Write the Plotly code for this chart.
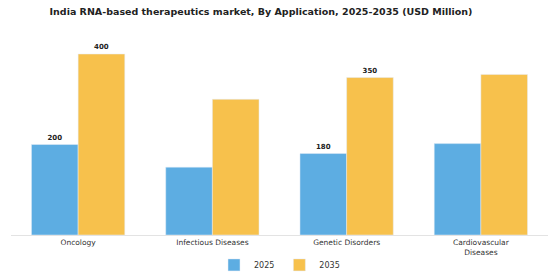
import plotly.graph_objects as go

categories = ["Oncology", "Infectious Diseases", "Genetic Disorders", "Cardiovascular<br>Diseases"]
values_2025 = [200, 150, 180, 202]
values_2035 = [400, 300, 348, 355]
labels_2025 = ["<b>200</b>", "", "<b>180</b>", ""]
labels_2035 = ["<b>400</b>", "", "<b>350</b>", ""]

blue = "#5DADE2"
yellow = "#F7C14C"

fig = go.Figure()
fig.add_trace(go.Bar(
    x=categories, y=values_2025, name="2025", marker_color=blue,
    text=labels_2025, textposition="outside", cliponaxis=False,
    textfont=dict(family="DejaVu Sans", size=7, color="#222"),
))
fig.add_trace(go.Bar(
    x=categories, y=values_2035, name="2035", marker_color=yellow,
    text=labels_2035, textposition="outside", cliponaxis=False,
    textfont=dict(family="DejaVu Sans", size=7, color="#222"),
))

fig.update_layout(
    width=560, height=280,
    margin=dict(l=11, r=12, t=40, b=45, autoexpand=False),
    paper_bgcolor="white", plot_bgcolor="white",
    barmode="group", bargap=0.305, bargroupgap=0,
    font=dict(family="DejaVu Sans", size=8, color="#333"),
    title=dict(
        text="<b>India RNA-based therapeutics market, By Application, 2025-2035 (USD Million)</b>",
        x=0.466, xanchor="center", y=0.96, yanchor="middle",
        font=dict(family="DejaVu Sans", size=9.5, color="#222"),
    ),
    showlegend=True,
    legend=dict(
        orientation="h", x=0.5, xanchor="center",
        yref="container", y=0.054, yanchor="middle",
        font=dict(family="DejaVu Sans", size=8, color="#333"),
        itemwidth=30,
    ),
)
fig.update_xaxes(
    showline=True, linecolor="#e3e3e3", linewidth=1, ticks="",
    tickfont=dict(family="DejaVu Sans", size=7.5, color="#333"),
    showgrid=False,
)
fig.update_yaxes(visible=False, range=[0, 431], showgrid=False)

fig.write_html("out.html")
